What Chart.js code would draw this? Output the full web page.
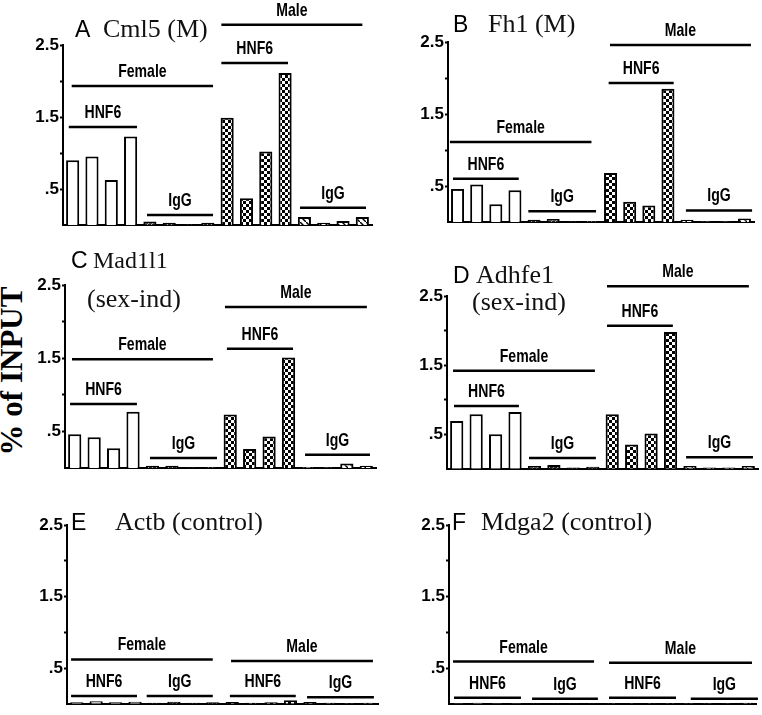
<!DOCTYPE html>
<html><head><meta charset="utf-8">
<script src="https://cdn.jsdelivr.net/npm/chart.js@4"></script>
<style>
html,body{margin:0;padding:0;background:#fff;}
body{width:762px;height:715px;overflow:hidden;position:relative;}
.p{position:absolute;}
#yt{position:absolute;left:12px;top:371px;transform:translate(-50%,-50%) rotate(-90deg);font:bold 31px 'Liberation Serif','Times New Roman',serif;white-space:nowrap;color:#000;}
</style></head><body>
<div id="yt">% of INPUT</div>
<script>
// ---- data ----
const categories = ['F-HNF6-1','F-HNF6-2','F-HNF6-3','F-HNF6-4','F-IgG-1','F-IgG-2','F-IgG-3','F-IgG-4',
                    'M-HNF6-1','M-HNF6-2','M-HNF6-3','M-HNF6-4','M-IgG-1','M-IgG-2','M-IgG-3','M-IgG-4'];
const yTickLabels = {'2.5':'2.5','2':'','1.5':'1.5','1':'','0.5':'.5'};
const cml5   = [0.90,0.95,0.625,1.23, 0.05,0.03,0.01,0.03, 1.49,0.37,1.02,2.11, 0.11,0.03,0.055,0.11];
const fh1    = [0.46,0.52,0.245,0.44, 0.03,0.04,0.01,0.015, 0.68,0.28,0.23,1.85, 0.03,0.01,0.01,0.05];
const mad1l1 = [0.46,0.42,0.27,0.77, 0.03,0.03,0.01,0.015, 0.73,0.26,0.43,1.51, 0.015,0.01,0.06,0.03];
const adhfe1 = [0.69,0.79,0.50,0.82, 0.04,0.055,0.02,0.03, 0.79,0.35,0.51,1.98, 0.04,0.02,0.02,0.04];
const actb   = [0.02,0.035,0.02,0.03, 0.015,0.03,0.015,0.02, 0.025,0.015,0.02,0.05, 0.025,0.015,0.01,0.015];
const mdga2  = [0.01,0.015,0.01,0.01, 0.01,0.01,0.01,0.01, 0.01,0.01,0.01,0.01, 0.01,0.01,0.01,0.015];

// group annotations: [label, fromIndex, toIndex, yValue]
const annA = [['Male',7.7,15.0,2.78],['HNF6',7.7,11.15,2.25],['Female',-0.05,7.27,1.93],['HNF6',-0.2,3.33,1.36],['IgG',3.85,7.27,0.14],['IgG',11.77,15.19,0.24]];
const annB = [['Male',7.97,15.34,2.46],['HNF6',7.9,11.3,1.93],['Female',-0.4,7.0,1.11],['HNF6',-0.24,3.2,0.60],['IgG',3.7,7.24,0.15],['IgG',11.94,15.4,0.16]];
const annC = [['Male',7.73,15.03,2.20],['HNF6',7.83,11.23,1.63],['Female',-0.14,7.11,1.485],['HNF6',-0.24,3.2,0.876],['IgG',3.87,7.32,0.136],['IgG',11.85,15.19,0.18]];
const annD = [['Male',7.73,15.03,2.64],['HNF6',7.73,11.12,2.07],['Female',-0.19,7.11,1.42],['HNF6',-0.14,3.2,0.91],['IgG',3.72,7.16,0.157],['IgG',11.8,15.24,0.167]];
const annE = [['Female',-0.29,7.0,0.62],['Male',7.94,15.24,0.60],['HNF6',-0.29,3.1,0.11],['IgG',3.6,7.0,0.11],['HNF6',7.88,11.27,0.11],['IgG',11.85,15.29,0.09]];
const annF = [['Female',-0.29,7.06,0.59],['Male',7.84,15.29,0.575],['HNF6',-0.24,3.25,0.085],['IgG',3.83,7.26,0.07],['HNF6',7.84,11.33,0.085],['IgG',12.1,15.6,0.07]];

// ---- patterns ----
function mkPat(w,h,draw){const c=document.createElement('canvas');c.width=w;c.height=h;const g=c.getContext('2d');draw(g);return g.createPattern(c,'repeat');}
const checker = mkPat(6,6,g=>{g.fillStyle='#fff';g.fillRect(0,0,6,6);g.fillStyle='#000';g.fillRect(0,0,3,3);g.fillRect(3,3,3,3);});
const hatchLight = mkPat(6,6,g=>{g.fillStyle='#fff';g.fillRect(0,0,6,6);g.strokeStyle='#000';g.lineWidth=1.5;g.beginPath();g.moveTo(-1,-1);g.lineTo(7,7);g.stroke();});
const hatchDark = mkPat(4,4,g=>{g.fillStyle='#222';g.fillRect(0,0,4,4);g.strokeStyle='#aaa';g.lineWidth=1;g.beginPath();g.moveTo(0,4);g.lineTo(4,0);g.stroke();});
const barFill = categories.map((c,i)=> i<4?'#ffffff': i<8?hatchDark: i<12?checker: hatchLight);

// ---- panels ----
const panels = [
 {data:cml5,  ann:annA, px:0,   py:0,   W:381,H:240, L:63, R:372, T:45,  B:225, titles:[['A',75,36.5,0,26],['Cml5 (M)',103,36.5,1,26]]},
 {data:fh1,   ann:annB, px:381, py:0,   W:381,H:240, L:448,R:754, T:42,  B:222, titles:[['B',72,31.5,0,26],['Fh1 (M)',107,31.5,1,26]]},
 {data:mad1l1,ann:annC, px:0,   py:240, W:381,H:240, L:65, R:376, T:285, B:468, titles:[['C',71,28,0,24],['Mad1l1',93,28,1,24],['(sex-ind)',87,67,1,26]]},
 {data:adhfe1,ann:annD, px:381, py:240, W:381,H:240, L:447,R:758, T:296, B:471, titles:[['D',72,43,0,26],['Adhfe1',95,43,1,26],['(sex-ind)',91,70,1,26]]},
 {data:actb,  ann:annE, px:0,   py:480, W:381,H:235, L:67, R:378, T:525, B:711, titles:[['E',71,50,0,26],['Actb (control)',115,50,1,26]]},
 {data:mdga2, ann:annF, px:381, py:480, W:381,H:235, L:449,R:756, T:525, B:712, titles:[['F',71,50,0,26],['Mdga2 (control)',100,50,1,26]]},
];

function annotPlugin(p){
  return {id:'annot'+p.px+'_'+p.py, afterDraw(chart){
    const ctx=chart.ctx, x=chart.scales.x, y=chart.scales.y;
    ctx.save();
    ctx.strokeStyle='#000';ctx.fillStyle='#000';ctx.lineWidth=2.5;ctx.lineCap='butt';
    for(const [t,a,b,v] of p.ann){
      const x0=x.getPixelForValue(a), x1=x.getPixelForValue(b), yy=y.getPixelForValue(v);
      ctx.beginPath();ctx.moveTo(x0,yy);ctx.lineTo(x1,yy);ctx.stroke();
      ctx.save();ctx.translate((x0+x1)/2,yy-9);ctx.scale(0.74,1);
      ctx.font="bold 19px 'Liberation Sans',Arial,sans-serif";ctx.textAlign='center';ctx.textBaseline='alphabetic';
      ctx.fillText(t,0,0);ctx.restore();
    }
    for(const [t,tx,ty,serif,sz] of p.titles){
      ctx.font = serif? sz+"px 'Liberation Serif','Times New Roman',serif" : "23px 'Liberation Sans',Arial,sans-serif";
      ctx.fillStyle = serif? '#111':'#000';
      ctx.textAlign='left';ctx.textBaseline='alphabetic';
      ctx.fillText(t,tx,ty);
    }
    ctx.restore();
  }};
}

panels.forEach(p=>{
  const c=document.createElement('canvas');
  c.className='p';c.width=p.W;c.height=p.H;
  c.style.left=p.px+'px';c.style.top=p.py+'px';c.style.width=p.W+'px';c.style.height=p.H+'px';
  document.body.appendChild(c);
  new Chart(c,{
    type:'bar',
    data:{labels:categories,datasets:[{data:p.data,backgroundColor:barFill,borderColor:'#000',borderWidth:2,borderSkipped:'start',barPercentage:0.68,categoryPercentage:1}]},
    options:{
      responsive:false,animation:false,devicePixelRatio:1,
      layout:{padding:{left:0,right:p.px+p.W-p.R,top:p.T-p.py,bottom:p.py+p.H-p.B}},
      plugins:{legend:{display:false},tooltip:{enabled:false},title:{display:false}},
      scales:{
        x:{type:'category',offset:true,ticks:{display:false},grid:{display:false,drawTicks:false},
           border:{display:true,color:'#000',width:2},afterFit:s=>{s.height=0;}},
        y:{min:0,max:2.5,
           ticks:{stepSize:0.5,autoSkip:false,padding:1,color:'#000',
                  font:{family:"'Liberation Sans',Arial,sans-serif",weight:'bold',size:17},
                  callback:v=>{const k=String(v);return (k in yTickLabels)? yTickLabels[k] : null;}},
           grid:{display:true,drawOnChartArea:false,drawTicks:true,tickLength:3,tickWidth:2,tickColor:'#000',color:'#000'},
           border:{display:true,color:'#000',width:2},
           afterFit:s=>{s.width=p.L-p.px;}}
      }
    },
    plugins:[annotPlugin(p)]
  });
});
</script>
</body></html>
